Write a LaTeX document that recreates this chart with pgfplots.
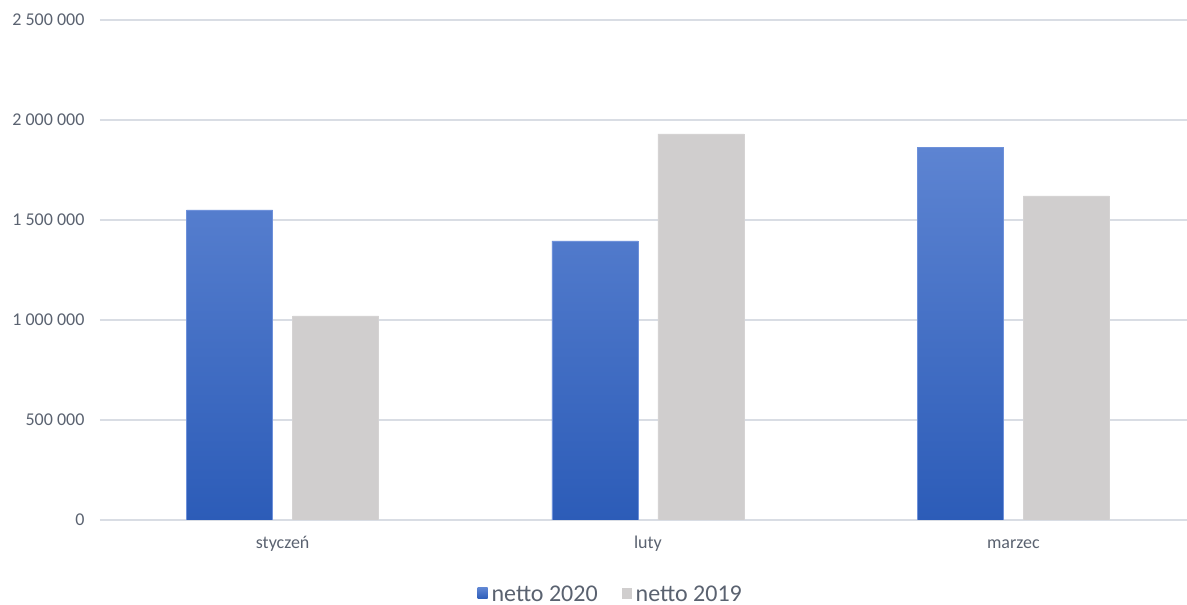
\documentclass[border=0pt]{standalone}
\usepackage{fontspec}
\setmainfont{Carlito}
\usepackage{pgfplots}
\pgfplotsset{compat=1.18}
\definecolor{txt}{RGB}{90,98,112}
\definecolor{gridc}{RGB}{217,221,228}
\definecolor{blueT}{RGB}{93,132,210}
\definecolor{blueB}{RGB}{44,92,184}
\definecolor{blueE}{RGB}{110,145,218}
\definecolor{greyB}{RGB}{208,206,206}

\begin{document}
\begin{tikzpicture}
\begin{axis}[
    at={(0pt,0pt)}, anchor=south west,
    scale only axis,
    width=1096pt, height=500pt,
    xmin=-0.5, xmax=2.5,
    ymin=0, ymax=2500000,
    ytick={0,500000,1000000,1500000,2000000,2500000},
    xtick={0,1,2},
    xticklabels={styczeń, luty, marzec},
    scaled y ticks=false,
    /pgf/number format/.cd, fixed, 1000 sep={\hspace{0.23em}}, assume math mode=true,
    /pgfplots/.cd,
    ymajorgrids, xmajorgrids=false,
    grid style={draw=gridc, line width=1.6pt},
    axis line style={draw=none},
    major tick length=0pt,
    tick label style={font=\fontsize{18}{21}\selectfont, text=txt},
    yticklabel style={xshift=-12pt},
    xticklabel style={yshift=-12pt, text height=13pt, text depth=4pt},
    ybar=20pt, bar width=86pt,
    legend style={at={(0.466,-0.148)}, anchor=center, draw=none,
        font=\fontsize{24}{28}\selectfont, text=txt,
        legend columns=2,
        /tikz/every odd column/.append style={column sep=2pt},
        /tikz/every even column/.append style={column sep=22pt}},
    legend image code/.code={\path[#1, draw=none] (0pt,-5pt) rectangle (10pt,6pt);},
]
\addplot[draw=blueE, line width=0.8pt, top color=blueT, bottom color=blueB]
    coordinates {(0,1550000) (1,1395000) (2,1863000)};
\addplot[draw=greyB!90!white, line width=0.8pt, fill=greyB]
    coordinates {(0,1020000) (1,1930000) (2,1620000)};
\legend{netto 2020, netto 2019}
\end{axis}
\pgfresetboundingbox
\useasboundingbox (-100pt,-85pt) rectangle (1087pt,520pt);
\end{tikzpicture}
\end{document}
